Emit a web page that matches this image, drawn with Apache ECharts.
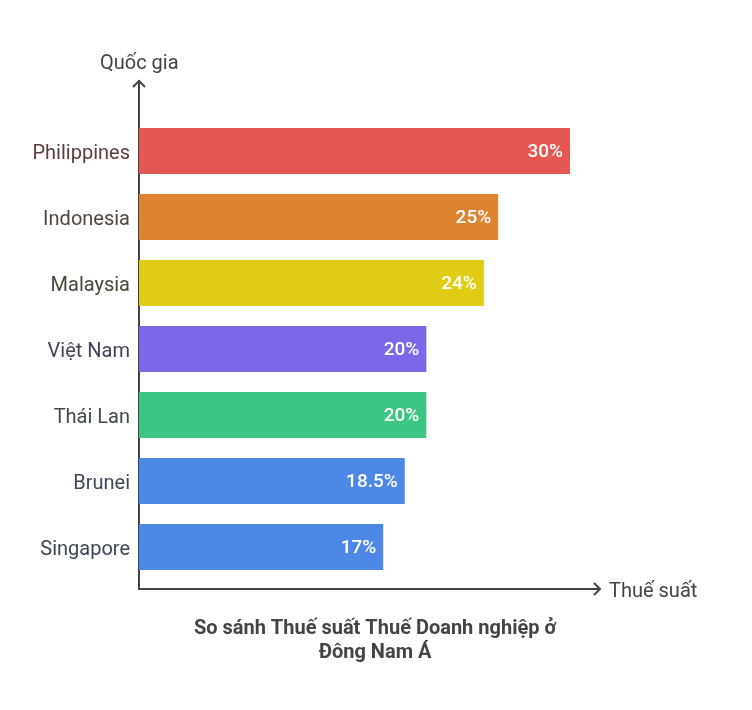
<!DOCTYPE html>
<html><head><meta charset="utf-8">
<script src="https://cdn.jsdelivr.net/npm/echarts@6/dist/echarts.min.js"></script>
<style>html,body{margin:0;padding:0;background:#fff}#c{width:752px;height:710px}</style>
</head><body><div id="c"></div>
<script>
const categories = ['Philippines','Indonesia','Malaysia','Việt Nam','Thái Lan','Brunei','Singapore'];
const values = [30, 25, 24, 20, 20, 18.5, 17];
const valueLabels = ['30%','25%','24%','20%','20%','18.5%','17%'];
const barColors = ['#E55753','#DE8431','#E0CB15','#7B67E8','#3CC583','#4E88E7','#4E88E7'];
const labelColors = ['#5b3d3d','#4f4640','#4a4838','#47415a','#3f4a45','#3d4656','#3d4656'];
const axisColor = '#444';
const chart = echarts.init(document.getElementById('c'));
const cats = categories.slice().reverse();
const vals = values.slice().reverse();
const vlab = valueLabels.slice().reverse();
const bcol = barColors.slice().reverse();
const lcol = labelColors.slice().reverse();
const rich = {};
lcol.forEach((c, i) => { rich['c' + i] = {color: c, fontSize: 20, fontFamily: 'Roboto', padding: [5, 0, 0, 0]}; });
chart.setOption({
  animation: false,
  textStyle: {fontFamily: 'Roboto'},
  title: {
    text: 'So sánh Thuế suất Thuế Doanh nghiệp ở\nĐông Nam Á',
    left: 370, top: 612, textAlign: 'center',
    textStyle: {fontSize: 20, fontWeight: 'bold', color: '#444', lineHeight: 24, fontFamily: 'Roboto'}
  },
  grid: {left: 139, top: 118, width: 431, height: 462, containLabel: false},
  xAxis: {type: 'value', min: 0, max: 30, show: false},
  yAxis: {
    type: 'category', data: cats,
    axisLine: {show: false}, axisTick: {show: false},
    axisLabel: {
      margin: 9, fontSize: 20, fontFamily: 'Roboto',
      formatter: (v, i) => '{c' + i + '|' + v + '}',
      rich: rich
    }
  },
  series: [{
    type: 'bar', barWidth: 46,
    data: vals.map((v, i) => ({value: v, itemStyle: {color: bcol[i]}})),
    label: {
      show: true, position: 'insideRight', distance: 7, offset: [0, 1],
      color: '#fff', fontSize: 19, fontWeight: 500, fontFamily: 'Roboto',
      formatter: p => vlab[p.dataIndex]
    }
  }],
  graphic: [
    {type: 'polyline', shape: {points: [[139, 590], [139, 80]]}, style: {stroke: axisColor, lineWidth: 2}},
    {type: 'polyline', shape: {points: [[133, 87], [139, 81], [145, 87]]}, style: {stroke: axisColor, lineWidth: 2, fill: null}},
    {type: 'polyline', shape: {points: [[138, 589], [600, 589]]}, style: {stroke: axisColor, lineWidth: 2}},
    {type: 'polyline', shape: {points: [[594, 583], [600, 589], [594, 595]]}, style: {stroke: axisColor, lineWidth: 2, fill: null}},
    {type: 'text', left: 100, top: 54, style: {text: 'Quốc gia', fontSize: 20, fill: '#444', fontFamily: 'Roboto'}},
    {type: 'text', left: 609, top: 582, style: {text: 'Thuế suất', fontSize: 20, fill: '#444', fontFamily: 'Roboto'}}
  ]
});
</script></body></html>
